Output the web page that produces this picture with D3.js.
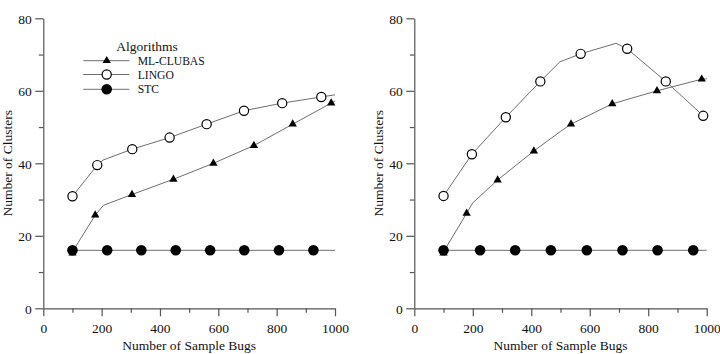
<!DOCTYPE html>
<html><head><meta charset="utf-8">
<script src="https://cdn.jsdelivr.net/npm/d3@7"></script>
<style>
html,body{margin:0;padding:0;background:#fff;}
svg{display:block;}
text{font-family:"Liberation Serif","Times New Roman",serif;fill:#111;}
</style></head>
<body><svg id="c" width="720" height="354"></svg>
<script>
// ---- data ----
const seriesNames = ["ML-CLUBAS", "LINGO", "STC"];
const xTicks = [0,100,200,300,400,500,600,700,800,900,1000];
const yTicks = [0,10,20,30,40,50,60,70,80];

// Left panel
const leftClubasX = [100,178,304,446,583,722,855,987];
const leftClubasY = [15.2,25.7,31.4,35.6,40.0,44.9,50.8,56.6];
const leftClubasLine = [[100,15.6],[178,25.7],[206,28.4],[304,31.4],[446,35.6],[583,40.0],[722,44.9],[855,50.8],[987,56.6],[1000,57.2]];
const leftLingoX = [100,185,305,433,560,688,819,953];
const leftLingoY = [30.9,39.5,43.9,47.1,50.8,54.5,56.6,58.3];
const leftLingoLine = [[100,30.9],[185,39.5],[205,40.9],[305,43.9],[433,47.1],[560,50.8],[688,54.5],[819,56.6],[953,58.3],[1000,58.9]];
const leftStcX = [100,219,336,454,572,689,808,926];
const leftStcY = [16,16,16,16,16,16,16,16];
const leftStcLine = [[100,16],[1000,16]];

// Right panel
const rightClubasX = [100,179,285,409,536,677,830,983];
const rightClubasY = [15.2,26.2,35.4,43.4,50.8,56.4,60.0,63.2];
const rightClubasLine = [[100,15.6],[179,26.2],[200,29.1],[285,35.4],[409,43.4],[500,48.8],[536,50.8],[677,56.4],[830,60.0],[983,63.2],[1000,63.3]];
const rightLingoX = [100,197,313,431,569,728,860,988];
const rightLingoY = [31.0,42.5,52.7,62.6,70.2,71.6,62.6,53.1];
const rightLingoLine = [[100,31.0],[197,42.5],[313,52.7],[431,62.6],[498,68.0],[569,70.2],[690,73.1],[728,71.6],[860,62.6],[988,53.1]];
const rightStcX = [100,225,345,467,590,712,832,954];
const rightStcY = [16,16,16,16,16,16,16,16];
const rightStcLine = [[100,16],[1000,16]];

// ---- drawing ----
const svg = d3.select("#c");
const lineColor = "#6e6e6e";
const axisColor = "#555";

function marker(g, kind, x, y){
  if(kind==="tri"){
    g.append("path").attr("d", d3.symbol(d3.symbolTriangle, 30)())
      .attr("transform",`translate(${x},${y})`).attr("fill","#000");
  } else if(kind==="open"){
    g.append("circle").attr("cx",x).attr("cy",y).attr("r",4.6)
      .attr("fill","#fff").attr("stroke","#000").attr("stroke-width",1.2);
  } else {
    g.append("circle").attr("cx",x).attr("cy",y).attr("r",5.3).attr("fill","#000");
  }
}

function panel(x0, x1, data, legend){
  const x = d3.scaleLinear().domain([0,1000]).range([x0,x1]);
  const y = d3.scaleLinear().domain([0,80]).range([308.3,18.3]);
  const g = svg.append("g");

  const ax = g.append("g").attr("transform",`translate(0,${y(0)})`)
    .call(d3.axisBottom(x).tickValues(xTicks).tickSize(8).tickSizeOuter(0)
      .tickFormat(d => d%200===0 ? d : ""));
  ax.selectAll(".tick line").attr("y2", d => d%200===0 ? 8 : 4.5);
  const ay = g.append("g").attr("transform",`translate(${x(0)},0)`)
    .call(d3.axisLeft(y).tickValues(yTicks).tickSize(8).tickSizeOuter(0)
      .tickFormat(d => d%20===0 ? d : ""));
  ay.selectAll(".tick line").attr("x2", d => d%20===0 ? -8 : -4.5);
  [ax,ay].forEach(a=>{
    a.selectAll("path,line").attr("stroke",axisColor).attr("stroke-width",1.2);
    a.selectAll("text").style("font-family",'"Liberation Serif",serif').style("font-size","13.5px").attr("fill","#111");
  });
  ax.selectAll("text").attr("dy","0.71em").attr("y",15.5);
  ay.selectAll("text").attr("x",-11.5).attr("dy","0.36em");

  g.append("text").attr("x",(x0+x1)/2).attr("y",349.5).attr("text-anchor","middle")
    .style("font-size","13.5px").text("Number of Sample Bugs");
  g.append("text").attr("transform",`translate(${x0-31},${y(40)}) rotate(-90)`)
    .attr("text-anchor","middle").style("font-size","13.5px").text("Number of Clusters");

  const line = d3.line().x(d=>x(d[0])).y(d=>y(d[1]));
  data.forEach(s=>{
    g.append("path").attr("d",line(s.line)).attr("fill","none")
      .attr("stroke",lineColor).attr("stroke-width",1);
  });
  // draw STC last so its discs sit on top
  [data[1],data[0],data[2]].forEach(s=>{
    s.xs.forEach((v,i)=>marker(g, s.kind, x(v), y(s.ys[i])));
  });

  if(legend){
    const lg = svg.append("g");
    lg.append("text").attr("x",147).attr("y",50.5).attr("text-anchor","middle")
      .style("font-size","13.5px").text("Algorithms");
    const rowsY = [60.7,74.5,89.3];
    data.forEach((s,i)=>{
      lg.append("line").attr("x1",83.3).attr("x2",129.3).attr("y1",rowsY[i]).attr("y2",rowsY[i])
        .attr("stroke",lineColor).attr("stroke-width",1);
      marker(lg, s.kind, 106.7, rowsY[i]);
      lg.append("text").attr("x",137.7).attr("y",rowsY[i]+4).style("font-size","11.6px").text(s.name);
    });
  }
}

panel(43.3, 335, [
  {name:seriesNames[0], kind:"tri", xs:leftClubasX, ys:leftClubasY, line:leftClubasLine},
  {name:seriesNames[1], kind:"open", xs:leftLingoX, ys:leftLingoY, line:leftLingoLine},
  {name:seriesNames[2], kind:"fill", xs:leftStcX, ys:leftStcY, line:leftStcLine}
], true);
panel(414.3, 706.7, [
  {name:seriesNames[0], kind:"tri", xs:rightClubasX, ys:rightClubasY, line:rightClubasLine},
  {name:seriesNames[1], kind:"open", xs:rightLingoX, ys:rightLingoY, line:rightLingoLine},
  {name:seriesNames[2], kind:"fill", xs:rightStcX, ys:rightStcY, line:rightStcLine}
], false);
</script></body></html>
